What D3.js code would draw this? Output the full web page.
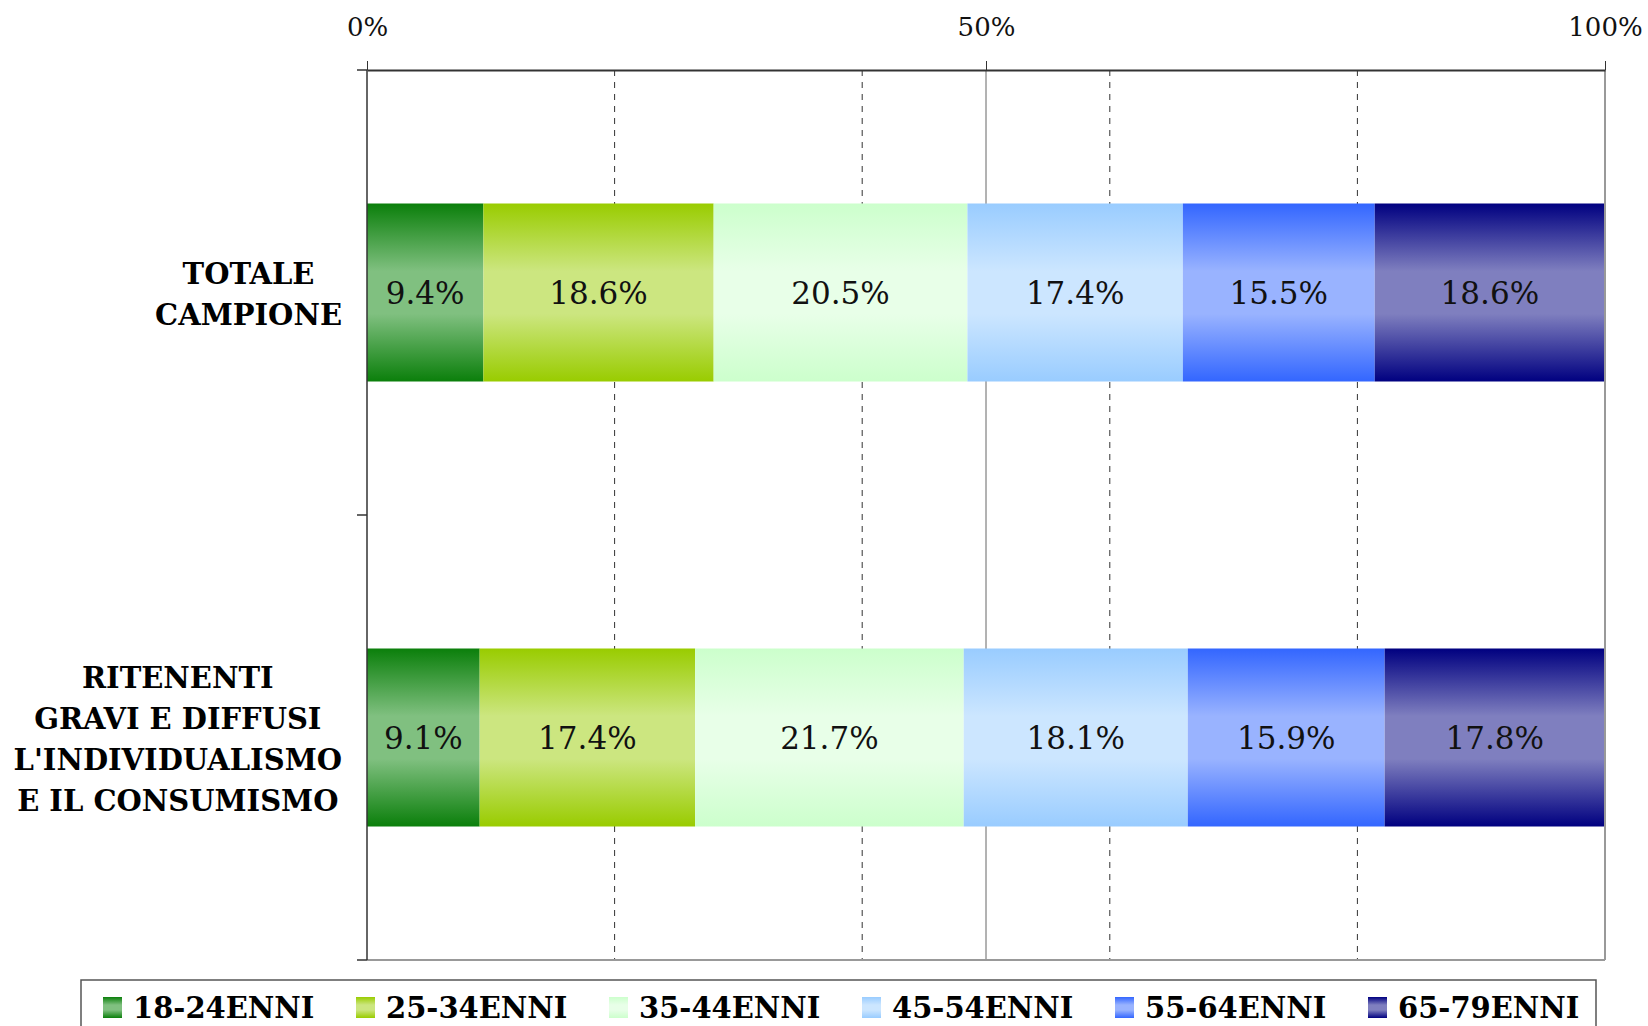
<!DOCTYPE html>
<meta charset="utf-8">
<style>
  body { margin: 0; background: #fff; }
  .tick text { font-family: "DejaVu Serif", serif; font-size: 26px; fill: #111; }
  .cat { font-family: "DejaVu Serif", serif; font-weight: bold; font-size: 29px; fill: #000; }
  .val { font-family: "DejaVu Serif", serif; font-size: 31px; fill: #111; }
  .leg { font-family: "DejaVu Serif", serif; font-weight: bold; font-size: 29px; fill: #000; }
</style>
<svg width="1648" height="1026"></svg>
<script src="https://d3js.org/d3.v7.min.js"></script>
<script>
// data
var categories = ["TOTALE CAMPIONE", "RITENENTI GRAVI E DIFFUSI L'INDIVIDUALISMO E IL CONSUMISMO"];
var categoryLines = [
  ["TOTALE", "CAMPIONE"],
  ["RITENENTI", "GRAVI E DIFFUSI", "L'INDIVIDUALISMO", "E IL CONSUMISMO"]
];
var seriesNames = ["18-24ENNI", "25-34ENNI", "35-44ENNI", "45-54ENNI", "55-64ENNI", "65-79ENNI"];
var totaleCampione = [9.4, 18.6, 20.5, 17.4, 15.5, 18.6];
var ritenenti = [9.1, 17.4, 21.7, 18.1, 15.9, 17.8];
var tickValues = [0, 0.5, 1];
var minorGrid = [0.2, 0.4, 0.6, 0.8];

var edgeColors = ["#0b7f0b", "#99cc00", "#ccffcc", "#99ccff", "#3366ff", "#000080"];
var midColors  = ["#80c080", "#cce680", "#e8ffe8", "#cce6ff", "#99b3ff", "#7f7fbf"];

var svg = d3.select("svg");
var plotLeft = 367, plotRight = 1605, plotTop = 70, plotBottom = 960;

var x = d3.scaleLinear().domain([0, 1]).range([plotLeft, plotRight]);
var y = d3.scaleBand().domain(categories).range([plotTop, plotBottom])
          .paddingInner(0.6).paddingOuter(0.3);

// gradients
var defs = svg.append("defs");
seriesNames.forEach(function(s, i) {
  var g = defs.append("linearGradient").attr("id", "grad" + i)
      .attr("x1", 0).attr("y1", 0).attr("x2", 0).attr("y2", 1);
  g.append("stop").attr("offset", "0%").attr("stop-color", edgeColors[i]);
  g.append("stop").attr("offset", "38%").attr("stop-color", midColors[i]);
  g.append("stop").attr("offset", "62%").attr("stop-color", midColors[i]);
  g.append("stop").attr("offset", "100%").attr("stop-color", edgeColors[i]);
});

// gridlines
svg.append("g").selectAll("line").data(minorGrid).enter().append("line")
   .attr("x1", x).attr("x2", x).attr("y1", plotTop).attr("y2", plotBottom)
   .attr("stroke", "#333").attr("stroke-dasharray", "6,6");
svg.append("line")
   .attr("x1", x(0.5)).attr("x2", x(0.5)).attr("y1", plotTop).attr("y2", plotBottom)
   .attr("stroke", "#666");

// bars
var rows = [totaleCampione, ritenenti];
rows.forEach(function(vals, r) {
  var cum = 0;
  var segs = vals.map(function(v, i) {
    var s = { i: i, v: v, x0: cum / 100, x1: (cum + v) / 100 };
    cum += v;
    return s;
  });
  var total = cum / 100;
  var g = svg.append("g");
  g.selectAll("rect").data(segs).enter().append("rect")
    .attr("x", function(d) { return x(d.x0 / total); })
    .attr("width", function(d) { return x(d.x1 / total) - x(d.x0 / total); })
    .attr("y", y(categories[r]))
    .attr("height", y.bandwidth())
    .attr("fill", function(d) { return "url(#grad" + d.i + ")"; });
  g.selectAll("text").data(segs).enter().append("text")
    .attr("class", "val")
    .attr("x", function(d) { return x((d.x0 + d.x1) / 2 / total); })
    .attr("y", y(categories[r]) + y.bandwidth() / 2)
    .attr("dy", "0.36em")
    .attr("text-anchor", "middle")
    .text(function(d) { return d.v.toFixed(1) + "%"; });
});

// plot border (right / bottom)
svg.append("line").attr("x1", plotRight).attr("x2", plotRight).attr("y1", plotTop).attr("y2", plotBottom)
   .attr("stroke", "#999").attr("stroke-width", 2);
svg.append("line").attr("x1", plotLeft).attr("x2", plotRight).attr("y1", plotBottom).attr("y2", plotBottom)
   .attr("stroke", "#999").attr("stroke-width", 2);

// top axis
var xAxis = svg.append("g").attr("transform", "translate(0," + plotTop + ")")
   .call(d3.axisTop(x).tickValues(tickValues).tickFormat(d3.format(".0%"))
         .tickSize(9).tickSizeOuter(0).tickPadding(25));
xAxis.select(".domain").attr("stroke", "#333").attr("stroke-width", 2);
xAxis.selectAll(".tick line").attr("stroke", "#333");

// left axis with ticks at category boundaries
var bounds = [plotTop, (plotTop + plotBottom) / 2, plotBottom];
svg.append("line").attr("x1", plotLeft).attr("x2", plotLeft).attr("y1", plotTop).attr("y2", plotBottom)
   .attr("stroke", "#333").attr("stroke-width", 1.5);
svg.append("g").selectAll("line").data(bounds).enter().append("line")
   .attr("x1", plotLeft - 10).attr("x2", plotLeft).attr("y1", function(d) { return d; })
   .attr("y2", function(d) { return d; }).attr("stroke", "#333").attr("stroke-width", 1.5);

// category labels
categoryLines.forEach(function(lines, r) {
  var cy = y(categories[r]) + y.bandwidth() / 2;
  var lh = 41;
  var g = svg.append("g");
  var t = g.selectAll("text").data(lines).enter().append("text")
    .attr("class", "cat")
    .attr("text-anchor", "middle")
    .attr("y", function(d, i) { return cy + (i - (lines.length - 1) / 2) * lh; })
    .attr("dy", "0.4em")
    .text(function(d) { return d; });
  var maxW = 0;
  t.each(function() { maxW = Math.max(maxW, this.getComputedTextLength()); });
  t.attr("x", 342 - maxW / 2);
});

// legend
svg.append("rect").attr("x", 81).attr("y", 980).attr("width", 1515).attr("height", 70)
   .attr("fill", "#fff").attr("stroke", "#555").attr("stroke-width", 1.5);
var legend = svg.selectAll(".legitem").data(seriesNames).enter().append("g")
   .attr("class", "legitem")
   .attr("transform", function(d, i) { return "translate(" + (103 + i * 253) + ",997)"; });
legend.append("rect").attr("width", 19).attr("height", 21)
   .attr("fill", function(d, i) { return "url(#grad" + i + ")"; });
legend.append("text").attr("class", "leg").attr("x", 30).attr("y", 21)
   .text(function(d) { return d; });
</script>
